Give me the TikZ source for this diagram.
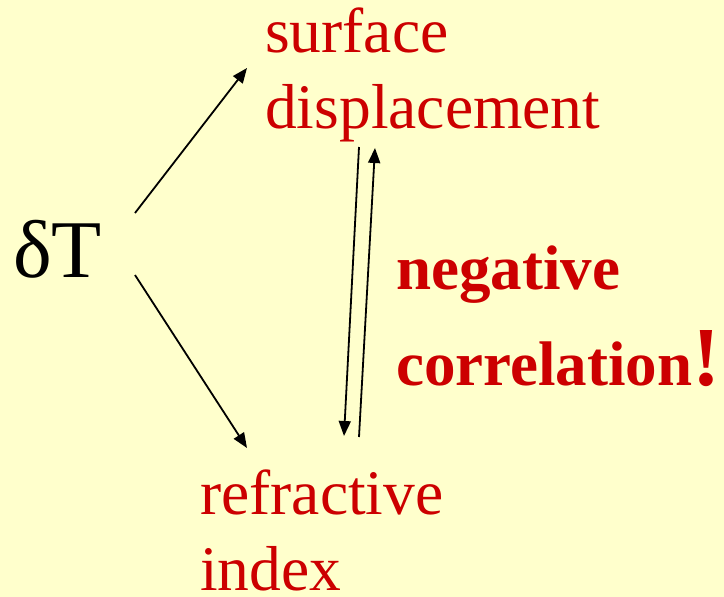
\documentclass[tikz,border=0pt]{standalone}
\usepackage{fontspec}
\setmainfont{Liberation Serif}
\usetikzlibrary{arrows.meta}
\definecolor{slide}{HTML}{FFFFCC}
\definecolor{deepred}{HTML}{CC0000}

\begin{document}
\begin{tikzpicture}[x=1pt,y=-1pt,>={Triangle[length=15pt,width=12pt]},
  lbl/.style={text=deepred,inner sep=0pt,align=left,anchor=base west,font=\fontsize{63.5}{76}\selectfont},
  arr/.style={->,line width=1.8pt,black}]
\fill[slide] (0,0) rectangle (724,597);
\useasboundingbox (0,0) rectangle (724,597);
\node[inner sep=0pt,anchor=base west,font=\fontsize{82}{96}\selectfont] (dT) at (13,277) {δT};
% base anchor sits on the last line
\node[lbl] (surf) at (265,128) {surface\\displacement};
\node[lbl] (refr) at (200,590) {refractive\\index};
\node[lbl,font=\fontsize{63}{96}\selectfont\bfseries] (corr) at (396,385)
  {negative\\correlation{\fontsize{84}{96}\selectfont!}};
% arrow ends
\coordinate (dTup) at (135,213);
\coordinate (dTdn) at (135,275);
\coordinate (surfin) at (247,68);
\coordinate (refrin) at (247,448);
\coordinate (surfout) at (359,147);
\coordinate (refrin2) at (344,436);
\coordinate (refrout) at (359,437);
\coordinate (surfin2) at (375,148);
\draw[arr] (dTup) -- (surfin);
\draw[arr] (dTdn) -- (refrin);
\draw[arr] (surfout) -- (refrin2);
\draw[arr] (refrout) -- (surfin2);
\end{tikzpicture}
\end{document}
